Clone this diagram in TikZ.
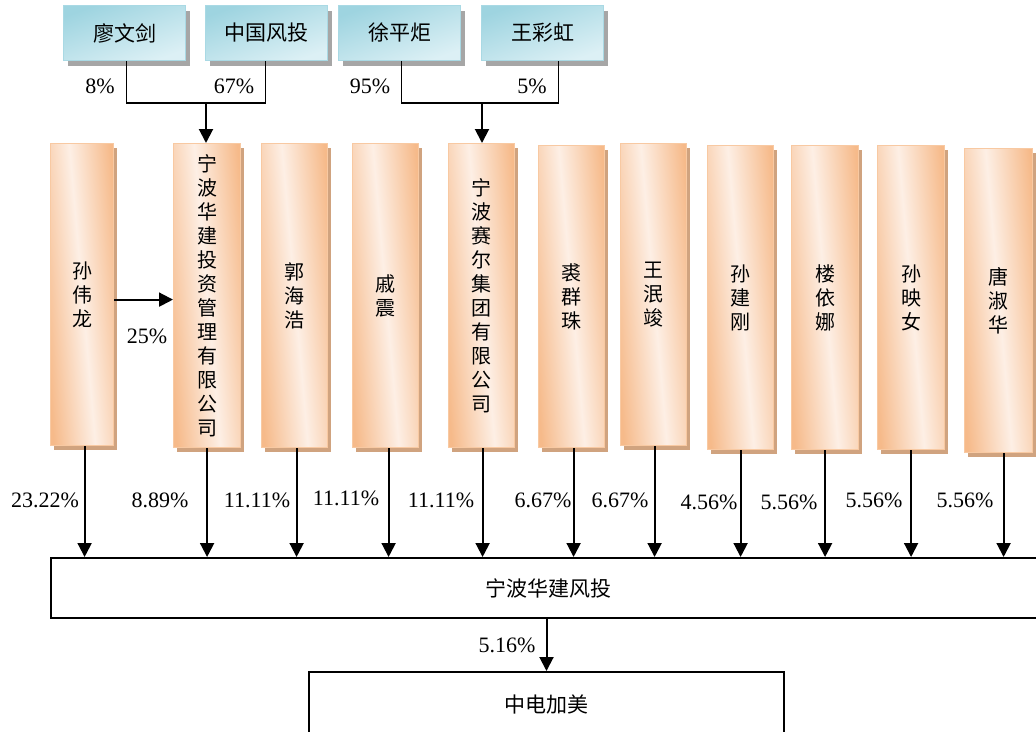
\documentclass[tikz,border=0pt]{standalone}
\usepackage{fontspec}
\setmainfont{Liberation Serif}
\newfontfamily\cjk{Noto Sans CJK SC}
\usetikzlibrary{arrows.meta,shadows}
\definecolor{bluedark}{HTML}{9ED4E0}
\definecolor{bluelight}{HTML}{DCF0F5}
\definecolor{blueedge}{HTML}{A9D9E4}
\definecolor{orgdark}{HTML}{F6BA8A}
\definecolor{orglight}{HTML}{FDEFE5}
\definecolor{orgedge}{HTML}{F8C9A2}
\definecolor{orgshadow}{HTML}{D0A37F}
\tikzset{
  topbox/.style={anchor=north west, minimum width=122, minimum height=55, inner sep=0,
    top color=bluedark, bottom color=bluelight, shading angle=20, draw=blueedge, line width=1,
    font=\cjk\fontsize{21}{21}\selectfont,
    drop shadow={shadow xshift=4pt, shadow yshift=-5pt, fill=black!35, opacity=1}},
  obox/.style={anchor=north west, minimum width=66, minimum height=304, inner sep=0,
    left color=orgdark, right color=orgdark, middle color=orglight, shading angle=95,
    draw=orgedge, line width=1.2, align=center,
    font=\cjk\fontsize{20}{24}\selectfont,
    drop shadow={shadow xshift=3pt, shadow yshift=-4pt, fill=orgshadow, opacity=1}},
  wbox/.style={anchor=north west, draw=black, line width=2, inner sep=0,
    font=\cjk\fontsize{21}{21}\selectfont},
  pct/.style={inner sep=0, font=\fontsize{22}{22}\selectfont},
  arr/.style={line width=2, -{Triangle[length=14,width=14]}},
  conn/.style={line width=1.5}
}
\begin{document}
\begin{tikzpicture}[x=1pt,y=-1pt]
\useasboundingbox (0,0) rectangle (1036,731);
% top boxes
\node[topbox] (liao) at (63,5) {廖文剑};
\node[topbox] (zg) at (205,5) {中国风投};
\node[topbox] (xu) at (338,5) {徐平炬};
\node[topbox] (wch) at (481,5) {王彩虹};
% orange boxes
\node[obox, minimum width=63, minimum height=302] (sun) at (50,143) {孙\\伟\\龙};
\node[obox, minimum width=67] (hj) at (173,143) {宁\\波\\华\\建\\投\\资\\管\\理\\有\\限\\公\\司};
\node[obox] (guo) at (261,143) {郭\\海\\浩};
\node[obox] (qi) at (352,143) {戚\\震};
\node[obox] (se) at (448,143) {宁\\波\\赛\\尔\\集\\团\\有\\限\\公\\司};
\node[obox, minimum height=302] (qiu) at (538,145) {裘\\群\\珠};
\node[obox, minimum height=302] (wang) at (620,143) {王\\泯\\竣};
\node[obox] (sjg) at (707,145) {孙\\建\\刚};
\node[obox, minimum width=67] (lou) at (791,145) {楼\\依\\娜};
\node[obox, minimum width=67] (syn) at (877,145) {孙\\映\\女};
\node[obox, minimum width=68] (tang) at (964,148) {唐\\淑\\华};
% bottom boxes
\node[wbox, minimum width=995, minimum height=60] (big) at (50,557) {宁波华建风投};
\node[wbox, minimum width=475, minimum height=64] (jm) at (308,671) {中电加美};
% top connectors
\coordinate (j1) at (206,103);
\coordinate (j2) at (482,103);
\draw[conn] ([xshift=2pt]liao.south) |- (j1) -| ([xshift=-1pt]zg.south);
\draw[arr] (j1) -- (j1 |- hj.north);
\draw[conn] ([xshift=2pt]xu.south) |- (j2) -| ([xshift=16pt]wch.south);
\draw[arr] (j2) -- (j2 |- se.north);
\node[pct] at (100,86) {8\%};
\node[pct] at (234,86) {67\%};
\node[pct] at (370,86) {95\%};
\node[pct] at (532,86) {5\%};
% sun -> hj
\draw[arr] ([yshift=-5pt]sun.east) -- ([yshift=-5pt]sun.east -| hj.west);
\node[pct] at (147,336) {25\%};
% arrows to big
\foreach \n/\dx in {sun/2.5,hj/0,guo/2,qi/3,se/1,qiu/2,wang/1,sjg/0,lou/0,syn/0,tang/5}{
  \draw[arr] ([xshift=\dx pt]\n.south) -- ([xshift=\dx pt]\n.south |- big.north);
}
\node[pct] at (45,500) {23.22\%};
\node[pct] at (160,500) {8.89\%};
\node[pct] at (257,500) {11.11\%};
\node[pct] at (346,498) {11.11\%};
\node[pct] at (441,500) {11.11\%};
\node[pct] at (543,500) {6.67\%};
\node[pct] at (620,500) {6.67\%};
\node[pct] at (709,502) {4.56\%};
\node[pct] at (789,502) {5.56\%};
\node[pct] at (874,500) {5.56\%};
\node[pct] at (965,500) {5.56\%};
% big -> jm
\draw[arr] (big.south -| jm.north) -- (jm.north);
\node[pct] at (507,645) {5.16\%};
\end{tikzpicture}
\end{document}
